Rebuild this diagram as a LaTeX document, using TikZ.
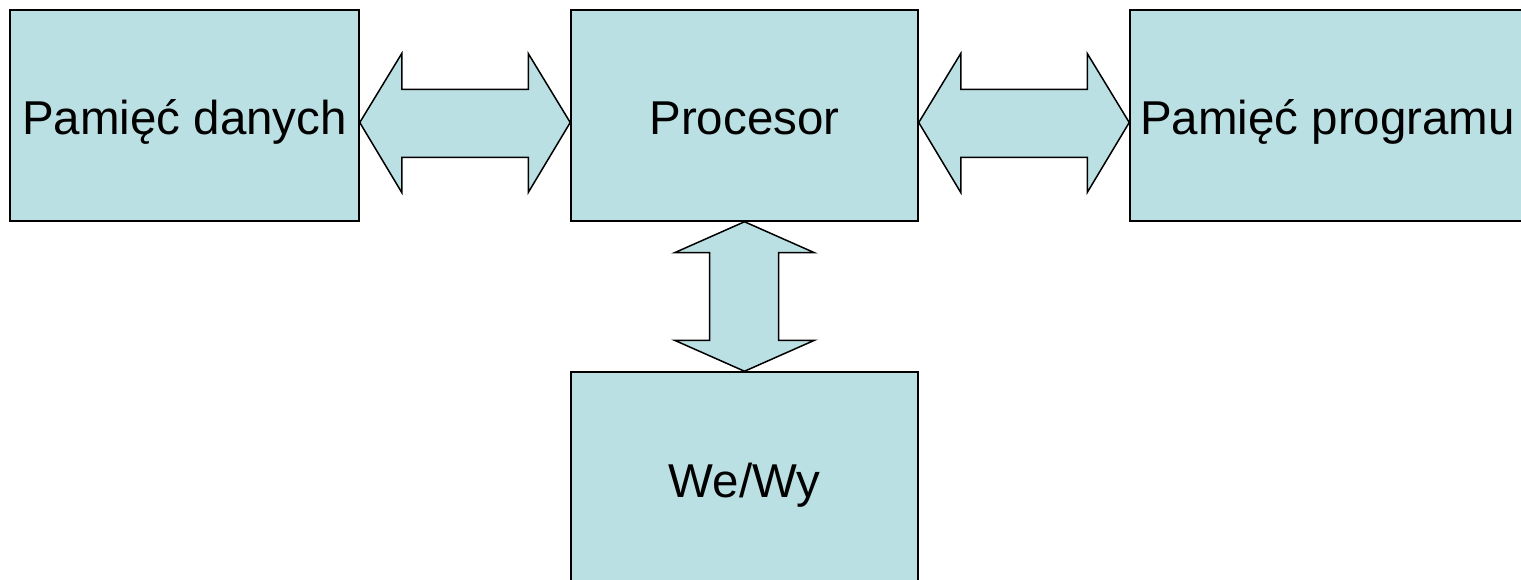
\documentclass[tikz,border=0pt]{standalone}
\usepackage{fontspec}
\setmainfont{Liberation Sans}
\usetikzlibrary{calc}
\definecolor{boxfill}{HTML}{BBE0E3}
\tikzset{
  blk/.style={draw=black, fill=boxfill, line width=1.5pt, inner sep=0pt,
    minimum height=211pt, text height=39pt, text depth=0pt,
    font=\fontsize{47.5}{57}\selectfont},
  bus/.style={draw=black, fill=boxfill, line width=1.5pt, line join=miter}
}
\begin{document}
\begin{tikzpicture}[x=1pt,y=-1pt]
\clip (0,0) rectangle (1521,580);
\fill[white] (0,0) rectangle (1521,580);
\node[blk, minimum width=349pt] (pd) at (184.5,115.5) {Pamięć danych};
\node[blk, minimum width=347pt] (proc) at (744.5,115.5) {Procesor};
\node[blk, minimum width=395pt] (pp) at (1327.5,115.5) {Pamięć programu};
\node[blk, minimum width=347pt] (io) at (744.5,477.5) {We/Wy};
% bus arrows
\coordinate (a1) at ($(pd.east)+(0,7)$);
\coordinate (a2) at ($(proc.west)+(0,7)$);
\draw[bus] (a1) -- ++(42,-69) -- ++(0,36) -- ($(a2)+(-42,-33)$) -- ++(0,-36) -- (a2)
  -- ++(-42,70) -- ++(0,-35) -- ($(a1)+(42,35)$) -- ++(0,35) -- cycle;
\coordinate (b1) at ($(proc.east)+(0,7)$);
\coordinate (b2) at ($(pp.west)+(0,7)$);
\draw[bus] (b1) -- ++(42,-69) -- ++(0,36) -- ($(b2)+(-42,-33)$) -- ++(0,-36) -- (b2)
  -- ++(-42,70) -- ++(0,-35) -- ($(b1)+(42,35)$) -- ++(0,35) -- cycle;
\coordinate (c1) at (proc.south);
\coordinate (c2) at (io.north);
\draw[bus] (c1) -- ++(70,31) -- ++(-36,0) -- ($(c2)+(34,-31)$) -- ++(36,0) -- (c2)
  -- ++(-70,-31) -- ++(35,0) -- ($(c1)+(-35,31)$) -- ++(-35,0) -- cycle;
\end{tikzpicture}
\end{document}
